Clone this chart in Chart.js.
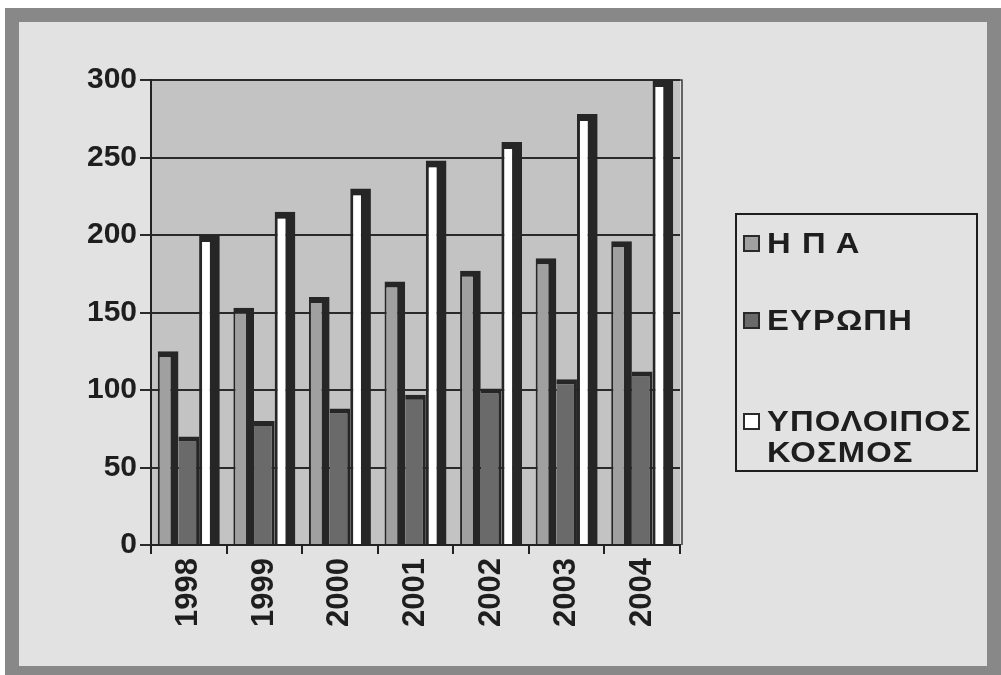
<!DOCTYPE html>
<html>
<head>
<meta charset="utf-8">
<script src="https://cdn.jsdelivr.net/npm/chart.js@4.4.1/dist/chart.umd.min.js"></script>
<style>
  html, body { margin: 0; padding: 0; background: #ffffff; width: 1001px; height: 675px; overflow: hidden; }
  #frame {
    position: absolute; left: 5px; top: 8px; width: 996px; height: 672px;
    box-sizing: border-box; border: 14px solid #888888; background: #e2e2e2;
  }
  #chart { position: absolute; left: 0; top: 0; }
  #legend {
    position: absolute; left: 735px; top: 213px; width: 243px; height: 259px;
    box-sizing: border-box; border: 2px solid #1e1e1e;
    font-family: "Liberation Sans", Arial, sans-serif; font-weight: bold;
    font-size: 29px; line-height: 31px; color: #1e1e1e; letter-spacing: 1px;
  }
  .item { position: absolute; left: 5px; }
  .swatch {
    position: absolute; left: 1px; top: 7px; width: 17px; height: 17px;
    box-sizing: border-box; border: 2px solid #2a2a2a;
  }
  .text {
    position: absolute; left: 25px; top: 0; white-space: nowrap;
    transform: scaleX(1.13); transform-origin: left top;
  }
</style>
</head>
<body>
<div id="frame"></div>
<canvas id="chart" width="1001" height="675"></canvas>
<div id="legend"></div>
<script>
// data
const years = ['1998', '1999', '2000', '2001', '2002', '2003', '2004'];
const usa = [125, 153, 160, 170, 177, 185, 196];
const europe = [70, 80, 88, 97, 101, 107, 112];
const restOfWorld = [200, 215, 230, 248, 260, 278, 300];
const seriesNames = ['Η Π Α', 'ΕΥΡΩΠΗ', ['ΥΠΟΛΟΙΠΟΣ', 'ΚΟΣΜΟΣ']];
const seriesColors = ['#a0a0a0', '#6a6a6a', '#ffffff'];
const yMax = 300;
const yStep = 50;

const FONT = '"Liberation Sans", Arial, sans-serif';
const EDGE = '#262626';

// grey plot area behind the bars, with the thin top/right edge
const plotArea = {
    id: 'plotArea',
    beforeDraw(chart) {
        const a = chart.chartArea;
        const ctx = chart.ctx;
        ctx.save();
        ctx.fillStyle = '#c3c3c3';
        ctx.fillRect(a.left, a.top, a.right - a.left, a.bottom - a.top);
        ctx.strokeStyle = '#3a3a3a';
        ctx.lineWidth = 1.5;
        ctx.beginPath();
        ctx.moveTo(a.left, a.top);
        ctx.lineTo(a.right + 2, a.top);
        ctx.lineTo(a.right + 2, a.bottom);
        ctx.stroke();
        ctx.restore();
    }
};

const chart = new Chart(document.getElementById('chart'), {
    type: 'bar',
    data: {
        labels: years,
        datasets: [
            {
                label: 'Η Π Α',
                data: usa,
                backgroundColor: seriesColors[0],
                borderColor: EDGE,
                borderWidth: { left: 2, top: 6, right: 8, bottom: 0 }
            },
            {
                label: 'ΕΥΡΩΠΗ',
                data: europe,
                backgroundColor: seriesColors[1],
                borderColor: EDGE,
                borderWidth: { left: 0, top: 5, right: 3, bottom: 0 }
            },
            {
                label: 'ΥΠΟΛΟΙΠΟΣ ΚΟΣΜΟΣ',
                data: restOfWorld,
                backgroundColor: seriesColors[2],
                borderColor: EDGE,
                borderWidth: { left: 3, top: 7, right: 10, bottom: 0 }
            }
        ]
    },
    options: {
        responsive: false,
        animation: false,
        layout: { padding: { left: 0, top: 80, right: 321, bottom: 0 } },
        datasets: { bar: { categoryPercentage: 0.82, barPercentage: 1.0 } },
        plugins: {
            legend: { display: false },
            tooltip: { enabled: false }
        },
        scales: {
            x: {
                offset: true,
                grid: {
                    offset: true,
                    drawOnChartArea: false,
                    drawTicks: true,
                    tickLength: 9,
                    color: '#222222',
                    lineWidth: 2
                },
                border: { display: true, color: '#222222', width: 2 },
                ticks: {
                    minRotation: 90,
                    maxRotation: 90,
                    padding: 4,
                    color: '#1e1e1e',
                    font: { family: FONT, size: 31, weight: 'bold' }
                },
                afterFit(scale) { scale.height = 130; }
            },
            y: {
                min: 0,
                max: yMax,
                ticks: {
                    stepSize: yStep,
                    padding: 3,
                    color: '#1e1e1e',
                    font: { family: FONT, size: 30, weight: 'bold' }
                },
                grid: { color: '#2a2a2a', lineWidth: 2, tickLength: 11 },
                border: { display: true, color: '#222222', width: 2 },
                afterFit(scale) { scale.width = 151; }
            }
        }
    },
    plugins: [plotArea]
});

// html legend built from the series names/colours
const legendTops = [13, 90, 191];
const legend = document.getElementById('legend');
seriesNames.forEach((name, i) => {
    const item = document.createElement('div');
    item.className = 'item';
    item.style.top = legendTops[i] + 'px';
    const sw = document.createElement('div');
    sw.className = 'swatch';
    sw.style.background = seriesColors[i];
    const tx = document.createElement('div');
    tx.className = 'text';
    tx.innerHTML = [].concat(name).join('<br>');
    item.appendChild(sw);
    item.appendChild(tx);
    legend.appendChild(item);
});
</script>
</body>
</html>
